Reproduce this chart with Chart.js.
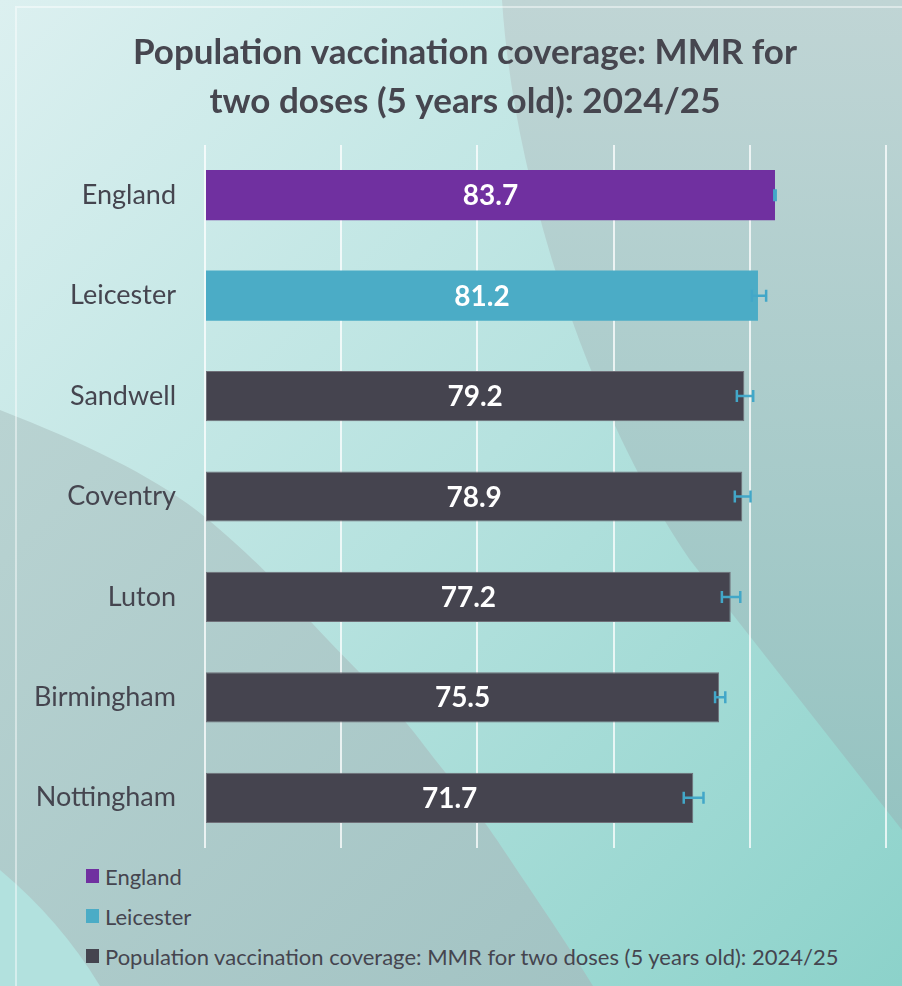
<!DOCTYPE html>
<html>
<head>
<meta charset="utf-8">
<title>MMR coverage 2024/25</title>
<script src="https://cdn.jsdelivr.net/npm/chart.js@4.4.1/dist/chart.umd.min.js"></script>
<style>
  html, body { margin: 0; padding: 0; }
  body {
    width: 902px; height: 986px; position: relative; overflow: hidden;
    background: linear-gradient(135deg, #dcf0f0 0%, #b6e2df 50%, #8cd2ca 100%);
    font-family: Lato, "Open Sans", sans-serif;
  }
  #bg { position: absolute; left: 0; top: 0; }
  #mmrChart { position: absolute; left: 0; top: 0; }
  #legend { position: absolute; left: 86px; top: 862px; }
  .item { display: flex; align-items: center; height: 28px; margin-bottom: 12px;
          font-size: 22px; color: #45454f; }
  .box { width: 13px; height: 14px; margin-right: 6px; }
</style>
</head>
<body>
<svg id="bg" width="902" height="986">
  <defs>
    <linearGradient id="rightFill" x1="0" y1="0" x2="0" y2="1">
      <stop offset="0" stop-color="#c0d5d5"/>
      <stop offset="1" stop-color="#95c3c1"/>
    </linearGradient>
    <linearGradient id="leftFill" x1="0" y1="0" x2="1" y2="1">
      <stop offset="0" stop-color="#b9d3d2"/>
      <stop offset="1" stop-color="#a2c3c3"/>
    </linearGradient>
  </defs>
  <path d="M502,0 C515,200 600,430 690,560 L902,830 L902,0 Z" fill="url(#rightFill)"/>
  <path d="M0,410 C90,445 160,480 205,517 C250,555 270,575 300,610 C350,665 390,700 420,740 C450,780 470,800 497,840 C530,890 565,940 593,986 L0,986 Z" fill="url(#leftFill)"/>
  <path d="M0,870 Q60,920 100,986 L0,986 Z" fill="#b2e1de"/>
  <path d="M16,986 L16,7 L902,7" fill="none" stroke="rgba(255,255,255,0.45)" stroke-width="2"/>
</svg>

<canvas id="mmrChart" width="902" height="860"></canvas>
<div id="legend"></div>

<script>
// Areas, coverage (%) and 95% confidence limits
const areas = ["England", "Leicester", "Sandwell", "Coventry", "Luton", "Birmingham", "Nottingham"];
const coverage = [83.7, 81.2, 79.2, 78.9, 77.2, 75.5, 71.7];
const ciLower = [83.6, 80.3, 78.1, 77.8, 75.9, 74.9, 70.3];
const ciUpper = [83.8, 82.4, 80.5, 80.1, 78.6, 76.4, 73.2];
const xTicks = [0, 20, 40, 60, 80, 100];

const seriesNames = ["England", "Leicester", "Population vaccination coverage: MMR for two doses (5 years old): 2024/25"];
const seriesColors = ["#7030a0", "#4bacc6", "#45444f"];

const textColor = "#45454f";

// England and Leicester get their own series, the rest share the third one
function pick(fn) {
    return areas.map((a, i) => fn(a) ? coverage[i] : null);
}
const seriesData = [
    pick(a => a === "England"),
    pick(a => a === "Leicester"),
    pick(a => a !== "England" && a !== "Leicester")
];

// white value label in the middle of each bar
const valueLabels = {
    id: "valueLabels",
    afterDatasetsDraw(chart) {
        const ctx = chart.ctx;
        ctx.save();
        ctx.fillStyle = "#ffffff";
        ctx.font = "bold 28px Lato";
        ctx.textAlign = "center";
        ctx.textBaseline = "middle";
        chart.data.datasets.forEach((ds, di) => {
            chart.getDatasetMeta(di).data.forEach((bar, i) => {
                if (ds.data[i] == null) return;
                ctx.fillText(ds.data[i].toFixed(1), (bar.x + bar.base) / 2, bar.y + 1);
            });
        });
        ctx.restore();
    }
};

// confidence interval whiskers
const errorBars = {
    id: "errorBars",
    afterDatasetsDraw(chart) {
        const ctx = chart.ctx;
        const xs = chart.scales.x, ys = chart.scales.y;
        ctx.save();
        ctx.strokeStyle = "#42a7c8";
        ctx.lineWidth = 2.5;
        areas.forEach((a, i) => {
            const y = ys.getPixelForValue(i);
            const x1 = xs.getPixelForValue(ciLower[i]);
            const x2 = xs.getPixelForValue(ciUpper[i]);
            ctx.beginPath();
            ctx.moveTo(x1, y); ctx.lineTo(x2, y);
            ctx.moveTo(x1, y - 6); ctx.lineTo(x1, y + 6);
            ctx.moveTo(x2, y - 6); ctx.lineTo(x2, y + 6);
            ctx.stroke();
        });
        ctx.restore();
    }
};

// the title sits a little right of the canvas centre
const titleShift = {
    id: "titleShift",
    afterLayout(chart) {
        if (chart.titleBlock) chart.titleBlock.left += 44;
    }
};

new Chart(document.getElementById("mmrChart"), {
    type: "bar",
    data: {
        labels: areas,
        datasets: seriesNames.map((name, k) => ({
            label: name,
            data: seriesData[k],
            backgroundColor: seriesColors[k],
            borderColor: k === 2 ? "#6f6f78" : seriesColors[k],
            borderWidth: k === 2 ? 1 : 0,
            borderSkipped: false,
            barPercentage: 0.5,
            categoryPercentage: 1
        }))
    },
    options: {
        indexAxis: "y",
        responsive: false,
        animation: false,
        layout: { padding: { left: 0, right: 16, top: 0, bottom: 12 } },
        plugins: {
            legend: { display: false },
            tooltip: { enabled: false },
            title: {
                display: true,
                text: ["Population vaccination coverage: MMR for", "two doses (5 years old): 2024/25"],
                color: "#46464f",
                font: { family: "Lato", size: 35, weight: "bold", lineHeight: 1.4 },
                padding: { top: 28, bottom: 19 }
            }
        },
        scales: {
            x: {
                stacked: true,
                min: 0,
                max: 100,
                afterBuildTicks: s => { s.ticks = xTicks.map(v => ({ value: v })); },
                afterFit: s => { s.height = 0; },
                ticks: { display: false },
                grid: { color: "rgba(255,255,255,0.75)", lineWidth: 2, drawTicks: false },
                border: { display: false }
            },
            y: {
                stacked: true,
                // fixed width, and no extra room reserved above/below for the labels
                afterFit: s => { s.width = 205; s.paddingTop = 0; s.paddingBottom = 0; },
                ticks: { color: textColor, font: { family: "Lato", size: 27 }, padding: 29 },
                grid: { display: false, drawTicks: false },
                border: { display: false }
            }
        }
    },
    plugins: [valueLabels, errorBars, titleShift]
});

// legend, one series per line
const legend = document.getElementById("legend");
seriesNames.forEach((name, k) => {
    const row = document.createElement("div");
    row.className = "item";
    const box = document.createElement("span");
    box.className = "box";
    box.style.background = seriesColors[k];
    row.appendChild(box);
    row.appendChild(document.createTextNode(name));
    legend.appendChild(row);
});
</script>
</body>
</html>
